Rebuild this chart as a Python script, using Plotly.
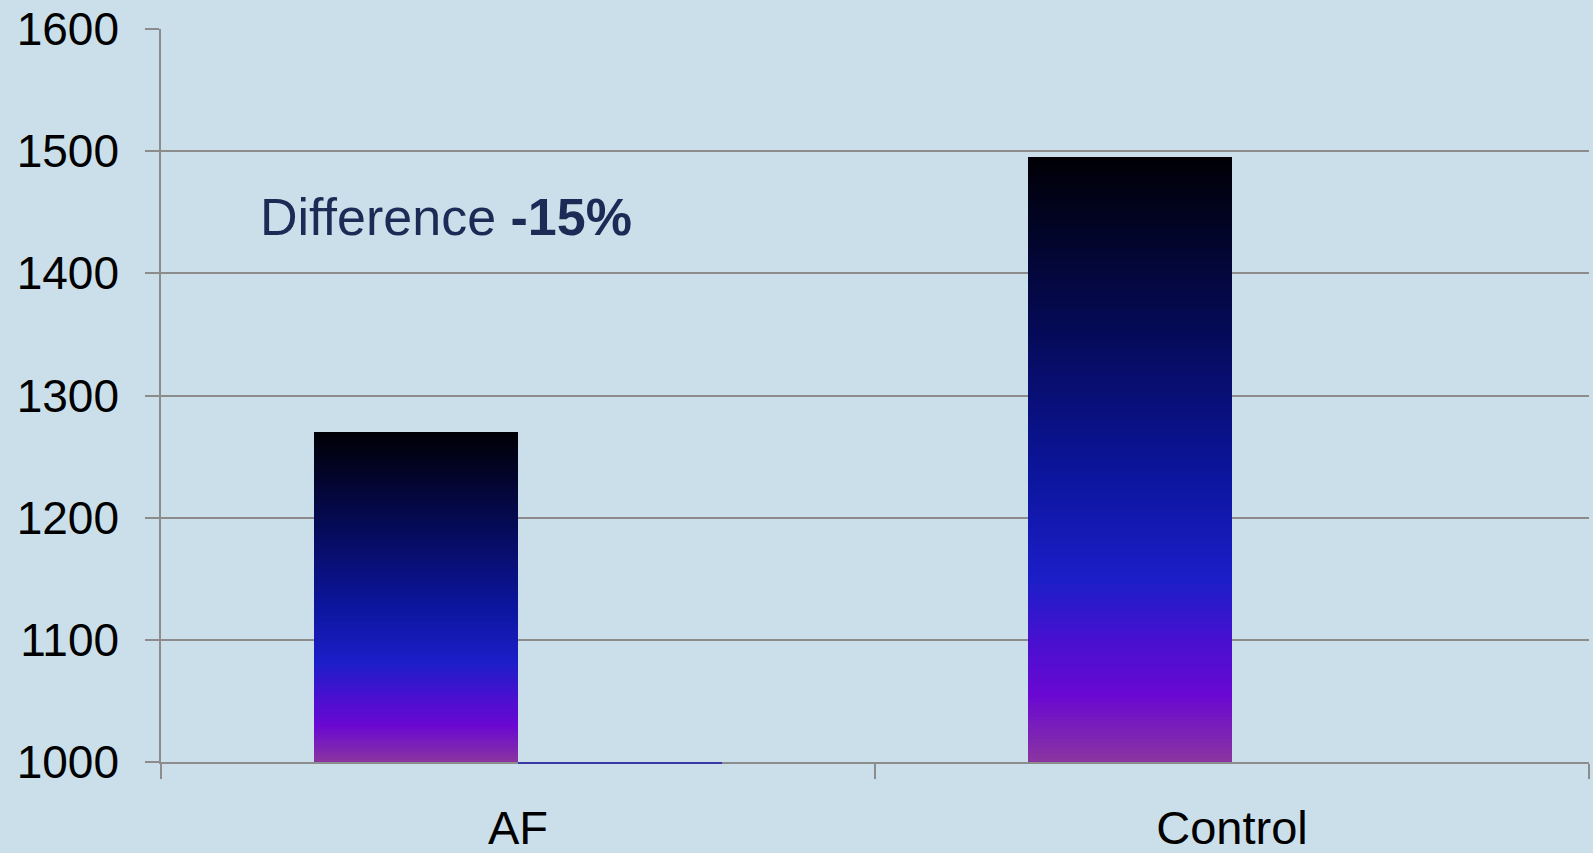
import plotly.graph_objects as go

# ---- data ----
categories = ["AF", "Control"]
series1 = [1270, 1495]          # main bars
series2 = [998, None]           # second series (only a sliver visible below the axis for AF)
y_ticks = [1000, 1100, 1200, 1300, 1400, 1500, 1600]
annotation_text = "Difference <b>-15%</b>"

# ---- style ----
BASE = 1000
N_SLICES = 160
grad_stops = [
    (0.00, (0x8a, 0x35, 0xa0)),   # bottom mauve
    (0.11, (0x6a, 0x08, 0xd2)),
    (0.20, (0x48, 0x10, 0xd0)),
    (0.30, (0x1c, 0x1e, 0xc8)),
    (0.47, (0x0c, 0x15, 0x9e)),
    (0.72, (0x05, 0x0a, 0x55)),
    (1.00, (0x00, 0x00, 0x05)),   # top black
]


def grad_color(t):
    for (t0, c0), (t1, c1) in zip(grad_stops[:-1], grad_stops[1:]):
        if t0 <= t <= t1:
            f = (t - t0) / (t1 - t0) if t1 > t0 else 0
            c = [round(a + (b - a) * f) for a, b in zip(c0, c1)]
            return "rgb({},{},{})".format(*c)
    return "rgb({},{},{})".format(*grad_stops[-1][1])


BAR_W = 0.286
H = 853
PLOT_TOP, AXIS_Y, STRIP_BOTTOM = 29, 762, 765
plot_h = STRIP_BOTTOM - PLOT_TOP
strip_frac = (STRIP_BOTTOM - AXIS_Y) / plot_h

fig = go.Figure()

# gradient bars: each bar split into thin stacked slices
for k in range(N_SLICES):
    t = (k + 0.5) / N_SLICES
    heights = [(v - BASE) / N_SLICES * 1.02 for v in series1]
    bases = [BASE + (v - BASE) * k / N_SLICES for v in series1]
    if k == N_SLICES - 1:
        heights = [(v - BASE) / N_SLICES for v in series1]
    fig.add_trace(go.Bar(
        x=categories, y=heights, base=bases,
        width=BAR_W, offset=-BAR_W,
        marker=dict(color=grad_color(t), line=dict(width=0)),
        showlegend=False, hoverinfo="skip",
    ))

# second series: drawn on a thin strip subplot just below the main axis
fig.add_trace(go.Bar(
    x=categories,
    y=[(v - BASE) if v is not None else None for v in series2],
    base=BASE,
    width=BAR_W, offset=0,
    marker=dict(color="#3838a4", line=dict(width=0)),
    xaxis="x2", yaxis="y2",
    showlegend=False,
))

grid_col = "#8c8c8c"
fig.update_layout(
    width=1593, height=H,
    margin=dict(l=161, r=4, t=PLOT_TOP, b=H - STRIP_BOTTOM),
    paper_bgcolor="#cadfe9",
    plot_bgcolor="rgba(0,0,0,0)",
    barmode="overlay",
    bargap=0,
    font=dict(family="Liberation Sans, Arial, sans-serif", color="black"),
    xaxis=dict(
        type="category",
        range=[-0.5, 1.5],
        automargin=False,
        anchor="y",
        showgrid=False,
        showline=True, linecolor=grid_col, linewidth=1.5,
        ticks="outside", tickson="boundaries", ticklen=15,
        tickcolor=grid_col, tickwidth=1.5,
        tickfont=dict(size=47, color="black"),
        ticklabelstandoff=24,
    ),
    xaxis2=dict(
        type="category", matches="x", anchor="y2",
        range=[-0.5, 1.5], visible=False,
    ),
    yaxis=dict(
        domain=[strip_frac, 1],
        range=[1000, 1600],
        automargin=False,
        tickvals=y_ticks,
        ticktext=[str(v) for v in y_ticks],
        showgrid=True, gridcolor=grid_col, gridwidth=1.5,
        showline=True, linecolor=grid_col, linewidth=1.5,
        zeroline=False,
        ticks="outside", ticklen=14, tickcolor=grid_col, tickwidth=1.5,
        tickfont=dict(size=46, color="black"),
        ticklabelstandoff=17,
    ),
    yaxis2=dict(
        domain=[0, strip_frac],
        range=[1000 - 600 * (STRIP_BOTTOM - AXIS_Y) / (AXIS_Y - PLOT_TOP), 1000],
        visible=False, showgrid=False, zeroline=False,
    ),
    annotations=[dict(
        text=annotation_text,
        xref="paper", yref="paper",
        x=(258 - 161) / (1589 - 161), y=(STRIP_BOTTOM - 217) / plot_h,
        xanchor="left", yanchor="middle",
        showarrow=False,
        font=dict(size=52, color="#1b2b56",
                  family="Liberation Sans, Arial, sans-serif"),
    )],
)

fig.write_html("out.html")
